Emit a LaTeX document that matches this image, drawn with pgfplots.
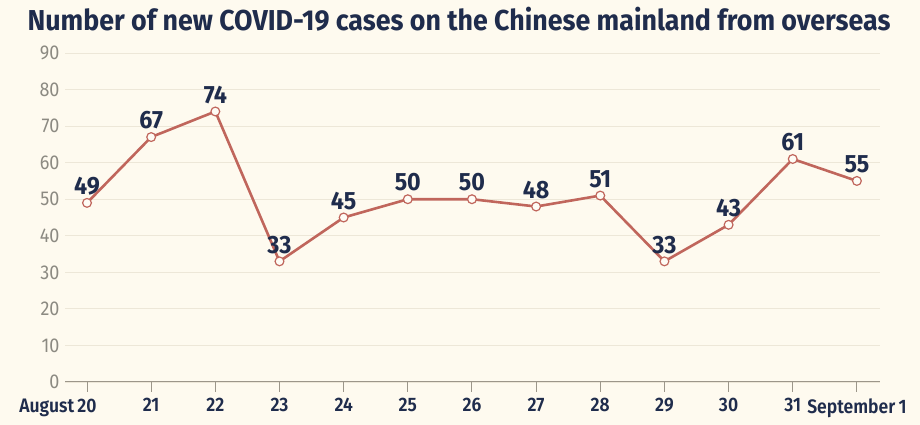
\documentclass[border=0pt]{standalone}
\usepackage{fontspec}
\setmainfont{Fira Sans}
\newfontfamily\titlefont[FakeStretch=0.93]{Fira Sans Bold}
\newfontfamily\labfont[FakeStretch=0.9]{Fira Sans SemiBold}
\newfontfamily\numfont[FakeStretch=0.9]{Fira Sans}
\usepackage{pgfplots}
\pgfplotsset{compat=1.18}
\definecolor{bg}{HTML}{FEFAEF}
\definecolor{navy}{HTML}{1F2C4C}
\definecolor{linec}{HTML}{C0665C}
\definecolor{gridc}{HTML}{EDE7D8}
\definecolor{tickgray}{HTML}{8C8A82}
\definecolor{axisc}{HTML}{9C968A}
\begin{document}
\begin{tikzpicture}[x=1pt,y=1pt]
\fill[bg] (0,0) rectangle (920,425);
\useasboundingbox (0,0) rectangle (920,425);
\node[text=navy,font=\titlefont\fontsize{28.8}{31}\selectfont] at (459,406) {Number of new COVID-19 cases on the Chinese mainland from overseas};
\begin{axis}[
  at={(65pt,43pt)}, anchor=south west,
  scale only axis, width=815pt, height=329pt,
  xmin=-0.343, xmax=12.36, ymin=0, ymax=90,
  axis x line*=bottom, axis y line*=left,
  y axis line style={draw=none},
  x axis line style={draw=axisc, line width=1pt, -},
  xtick={0,...,12},
  xticklabels={{\llap{August\,}20},21,22,23,24,25,26,27,28,29,30,31,{September\,1}},
  ytick={0,10,...,90},
  ymajorgrids, grid style={gridc, line width=0.8pt},
  xtick style={draw=axisc, line width=1pt},
  major tick length=10pt, tick align=outside,
  ytick style={draw=none},
  xticklabel style={text=navy, font=\labfont\fontsize{19.5}{21}\selectfont, yshift=-3pt},
  yticklabel style={text=tickgray, font=\numfont\fontsize{20}{22}\selectfont, xshift=8pt},
  /pgf/number format/assume math mode=true,
  clip=false,
  nodes near coords,
  every node near coord/.append style={text=navy, font=\titlefont\fontsize{25}{27}\selectfont, anchor=south, yshift=4pt},
]
\addplot[linec, line width=2.6pt, mark=*, mark size=4.4pt, mark options={fill=bg!60!white, draw=linec, line width=1.2pt}]
coordinates {(0,49)(1,67)(2,74)(3,33)(4,45)(5,50)(6,50)(7,48)(8,51)(9,33)(10,43)(11,61)(12,55)};
\end{axis}
\end{tikzpicture}
\end{document}
